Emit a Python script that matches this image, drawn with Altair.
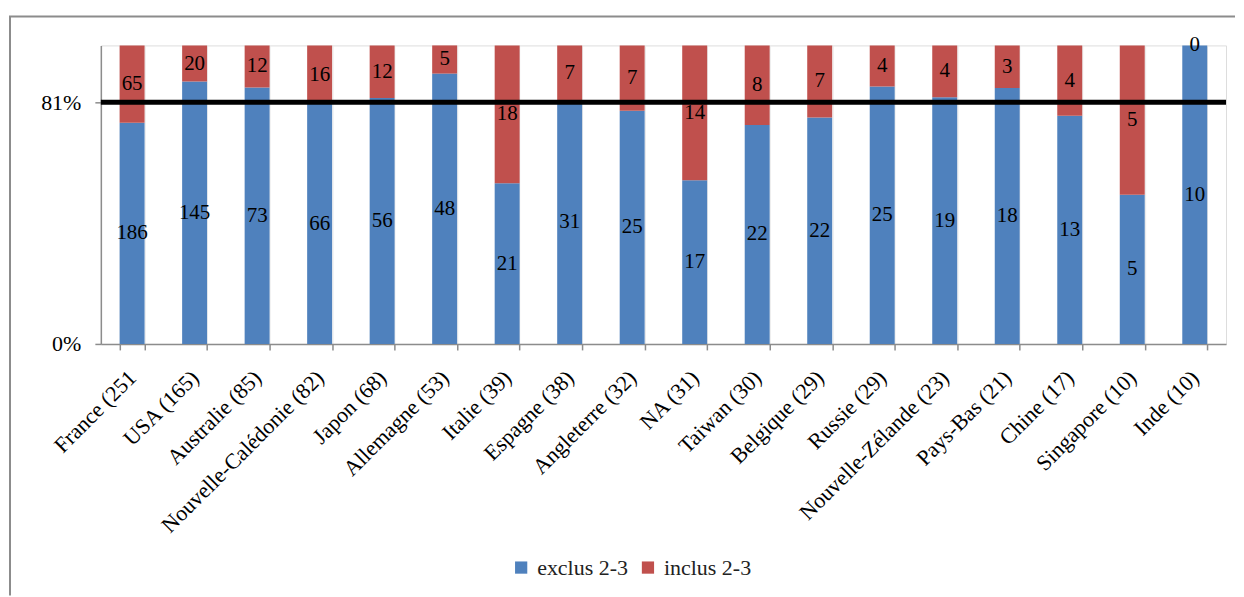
import altair as alt
import pandas as pd

categories = ["France (251", "USA (165)", "Australie (85)", "Nouvelle-Calédonie (82)",
              "Japon (68)", "Allemagne (53)", "Italie (39)", "Espagne (38)",
              "Angleterre (32)", "NA (31)", "Taiwan (30)", "Belgique (29)",
              "Russie (29)", "Nouvelle-Zélande (23)", "Pays-Bas (21)", "Chine (17)",
              "Singapore (10)", "Inde (10)"]
exclus = [186, 145, 73, 66, 56, 48, 21, 31, 25, 17, 22, 22, 25, 19, 18, 13, 5, 10]
inclus = [65, 20, 12, 16, 12, 5, 18, 7, 7, 14, 8, 7, 4, 4, 3, 4, 5, 0]
series_names = ["exclus 2-3", "inclus 2-3"]
series_colors = ["#4F81BD", "#C0504D"]
reference_level = [0.81]
y_ticks = [0, 0.81]

rows = []
for c, e, i in zip(categories, exclus, inclus):
    rows.append({"cat": c, "series": series_names[0], "value": e, "ord": 0})
    rows.append({"cat": c, "series": series_names[1], "value": i, "ord": 1})
df = pd.DataFrame(rows)

FONT = "Liberation Serif"
W, H = 1127, 299
GRAY = "#8c8c8c"

base = alt.Chart(df).transform_stack(
    stack="value", groupby=["cat"], as_=["y0", "y1"],
    sort=[alt.SortField("ord", order="ascending")], offset="normalize"
).transform_calculate(mid="(datum.y0 + datum.y1) / 2")

xenc = alt.X("cat:N", sort=categories, title=None,
             scale=alt.Scale(paddingInner=0.6, paddingOuter=0.3),
             axis=alt.Axis(labelAngle=-45, labelAlign="right", labelBaseline="middle",
                           labelFont=FONT, labelFontSize=22,
                           labelColor="black", domainColor=GRAY, tickColor=GRAY,
                           tickSize=6, domainWidth=1.5, tickWidth=1.5,
                           grid=True, gridColor="#e8e8e8", tickBand="extent",
                           labelPadding=24, labelLimit=400))

bars = base.mark_bar(size=25).encode(
    x=xenc,
    y=alt.Y("y0:Q", scale=alt.Scale(domain=[0, 1]), title=None,
            axis=alt.Axis(values=y_ticks, format=".0%", grid=False,
                          labelFont=FONT, labelFontSize=22, labelColor="black",
                          domainColor=GRAY, tickColor=GRAY, tickSize=6,
                          domainWidth=1.5, tickWidth=1.5, labelPadding=14)),
    y2="y1:Q",
    color=alt.Color("series:N",
                    scale=alt.Scale(domain=series_names, range=series_colors),
                    legend=alt.Legend(title=None, orient="none", direction="horizontal",
                                      legendX=410, legendY=512, symbolType="square",
                                      symbolSize=150, labelFont=FONT, labelFontSize=22,
                                      labelColor="#222222", columnPadding=8,
                                      labelOffset=5, symbolStrokeWidth=0)),
)

rule = alt.Chart(pd.DataFrame({"y": reference_level})).mark_rule(
    color="black", strokeWidth=5).encode(y="y:Q")

labels = base.mark_text(font=FONT, fontSize=21, color="black").encode(
    x=alt.X("cat:N", sort=categories),
    y="mid:Q",
    text="value:Q",
)

frame_df = pd.DataFrame({"k": [0]})
frame_left = alt.Chart(frame_df).mark_rule(color=GRAY, strokeWidth=2).encode(
    x=alt.value(-91), y=alt.value(-29), y2=alt.value(551))
frame_top = alt.Chart(frame_df).mark_rule(color=GRAY, strokeWidth=2).encode(
    x=alt.value(-92), x2=alt.value(1136), y=alt.value(-29))

chart = alt.layer(bars, rule, labels, frame_left, frame_top).properties(
    width=W, height=H,
    padding={"left": 0, "right": 0, "top": 7, "bottom": 0},
).configure_view(stroke=None).configure(background="white")

chart.save("out.html", embed_options={"renderer": "svg", "actions": False})
